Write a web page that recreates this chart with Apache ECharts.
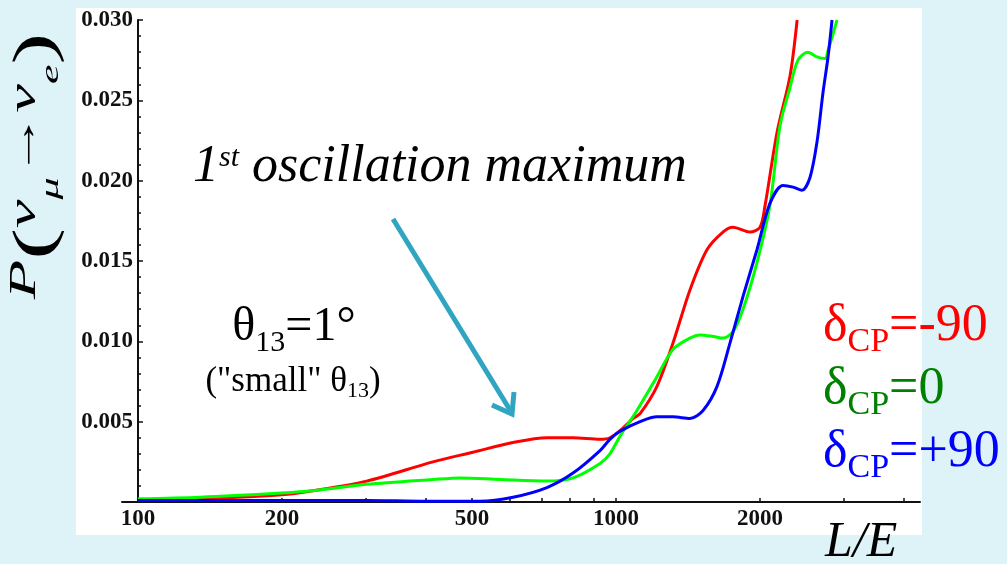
<!DOCTYPE html>
<html>
<head>
<meta charset="utf-8">
<title>P(numu -> nue) vs L/E</title>
<script src="https://cdn.jsdelivr.net/npm/echarts@6.0.0/dist/echarts.min.js"></script>
<style>
  html, body { margin: 0; padding: 0; background: #def3f8; }
  #chart { width: 1007px; height: 564px; }
</style>
</head>
<body>
<div id="chart"></div>
<script>
// values (L/E, probability)
var redLE = [100, 135, 200, 232, 301, 414, 502, 609, 717, 813, 926, 971, 1034, 1086, 1123, 1218, 1316, 1428, 1550, 1674, 1757, 1907, 2001, 2049, 2172, 2312, 2393];
var redP = [0.0001, 0.0002, 0.00045, 0.0007, 0.0013, 0.0025, 0.0031, 0.0037, 0.0040, 0.0040, 0.0039, 0.0040, 0.0046, 0.0052, 0.0055, 0.0072, 0.0099, 0.0132, 0.0157, 0.0168, 0.0171, 0.0168, 0.0171, 0.0184, 0.0230, 0.0265, 0.0300];

var greenLE = [100, 135, 200, 232, 301, 414, 472, 572, 717, 813, 926, 971, 1020, 1106, 1218, 1316, 1428, 1499, 1600, 1674, 1757, 1844, 1972, 2100, 2203, 2312, 2403, 2521, 2633, 2737, 2777, 2900];
var greenP = [0.0002, 0.0003, 0.00056, 0.0007, 0.0011, 0.0014, 0.0015, 0.0014, 0.0013, 0.0015, 0.0024, 0.0030, 0.0041, 0.0057, 0.0078, 0.0095, 0.0102, 0.0104, 0.0103, 0.0102, 0.0106, 0.0120, 0.0149, 0.0185, 0.0234, 0.0258, 0.0275, 0.0280, 0.0277, 0.0276, 0.0281, 0.0300];

var blueLE = [100, 200, 300, 400, 519, 609, 717, 813, 926, 971, 1020, 1123, 1218, 1316, 1428, 1521, 1627, 1732, 1844, 1972, 2100, 2236, 2346, 2449, 2546, 2633, 2711, 2777, 2831];
var blueP = [0.0001, 0.0001, 0.0001, 0.00005, 0.00005, 0.0003, 0.0009, 0.0018, 0.0032, 0.0039, 0.0044, 0.0050, 0.0053, 0.0053, 0.0052, 0.0057, 0.0072, 0.0099, 0.0128, 0.0157, 0.0186, 0.0197, 0.0196, 0.0194, 0.0202, 0.0224, 0.0255, 0.0277, 0.0300];

var xTickLabels = [100, 200, 500, 1000, 2000];
var xMinorTicks = [300, 400, 600, 700, 800, 900, 3000, 4000];

function toPoints (le, p) {
  return le.map(function (v, i) { return [Math.log10(v), p[i]] })
}
function logs (arr) {
  return arr.map(function (v) { return Math.log10(v) })
}

var serif = 'Liberation Serif, Times New Roman, serif'
var axisFont = { fontFamily: serif, fontWeight: 'bold', fontSize: 23, color: '#111' }

// rich text token; pad pushes the glyphs down (used for subscripts)
function tok (size, color, italic, pad) {
  return {
    fontFamily: serif, fontSize: size, verticalAlign: 'top', fill: color,
    fontStyle: italic ? 'italic' : 'normal', padding: [pad || 0, 0, 0, 0]
  }
}
function deltaLabel (y, value, color) {
  return {
    type: 'text', x: 823, y: y, z: 100,
    style: {
      text: '{m|δ}{s|CP}{m|=' + value + '}',
      align: 'left', verticalAlign: 'top',
      rich: { m: tok(52, color), s: tok(34, color, false, 25) }
    }
  }
}

var myChart = echarts.init(document.getElementById('chart'))

var option = {
  backgroundColor: '#def3f8',
  animation: false,
  grid: { left: 122, right: 87, top: 20, bottom: 62 },
  xAxis: {
    type: 'value',
    min: 2 - 16 / 478,
    max: 2 - 16 / 478 + 798 / 478,
    splitLine: { show: false },
    axisLine: { lineStyle: { color: '#111', width: 2 } },
    axisTick: {
      inside: true, length: 4,
      customValues: logs(xTickLabels.concat(xMinorTicks)),
      lineStyle: { color: '#111', width: 1.5 }
    },
    axisLabel: Object.assign({
      margin: 6,
      customValues: logs(xTickLabels),
      formatter: function (v) { return Math.round(Math.pow(10, v)) }
    }, axisFont)
  },
  yAxis: {
    type: 'value',
    min: 0,
    max: 0.03,
    interval: 0.005,
    offset: -16,
    splitLine: { show: false },
    axisLine: { show: true, lineStyle: { color: '#111', width: 2 } },
    axisTick: { inside: true, length: 5, lineStyle: { color: '#111', width: 1.5 } },
    minorTick: { show: true, splitNumber: 5, length: 3, lineStyle: { color: '#111', width: 1.5 } },
    axisLabel: Object.assign({
      margin: 5,
      formatter: function (v) { return v === 0 ? '' : v.toFixed(3) }
    }, axisFont)
  },
  series: [
    { name: 'δCP=-90', type: 'line', data: toPoints(redLE, redP), smooth: 0.3, showSymbol: false, lineStyle: { color: '#ff0000', width: 3 } },
    { name: 'δCP=0', type: 'line', data: toPoints(greenLE, greenP), smooth: 0.3, showSymbol: false, lineStyle: { color: '#00ff00', width: 3 } },
    { name: 'δCP=+90', type: 'line', data: toPoints(blueLE, blueP), smooth: 0.3, showSymbol: false, lineStyle: { color: '#0000ff', width: 3 } }
  ],
  graphic: [
    { type: 'rect', z: -10, shape: { x: 76, y: 8, width: 846, height: 527 }, style: { fill: '#ffffff' } },
    // y axis title, stretched along its length like on the slide
    {
      type: 'text', x: 6, y: 166, rotation: Math.PI / 2, scaleX: 1.7, z: 100,
      style: {
        text: '{m|P}{p|(}{m|ν}{s|μ}{a|→}{m|ν}{s|e}{p|)}',
        align: 'center', verticalAlign: 'top',
        rich: { m: tok(38, '#000', true), s: tok(26, '#000', true, 32), a: tok(38, '#000'), p: tok(56, '#000', false, 3) }
      }
    },
    {
      type: 'text', x: 193, y: 141, z: 100,
      style: {
        text: '{m|1}{u|st}{m| oscillation maximum}',
        align: 'left', verticalAlign: 'top',
        rich: { m: tok(52, '#000', true), u: tok(30, '#000', true, 2) }
      }
    },
    {
      type: 'text', x: 294, y: 303, z: 100,
      style: {
        text: '{m|θ}{s|13}{m|=1°}',
        align: 'center', verticalAlign: 'top',
        rich: { m: tok(48, '#000'), s: tok(30, '#000', false, 25) }
      }
    },
    {
      type: 'text', x: 293, y: 364, z: 100,
      style: {
        text: '{m|("small" θ}{s|13}{m|)}',
        align: 'center', verticalAlign: 'top',
        rich: { m: tok(35, '#000'), s: tok(22, '#000', false, 16) }
      }
    },
    // arrow pointing at the first oscillation maximum
    { type: 'polyline', z: 100, shape: { points: [[393, 219], [510, 410]] }, style: { stroke: '#30a5c2', lineWidth: 5 } },
    { type: 'polyline', z: 100, shape: { points: [[514, 392], [512, 414], [492, 405]] }, style: { stroke: '#30a5c2', lineWidth: 5, fill: null, lineJoin: 'miter' } },
    deltaLabel(300, '-90', '#ff0000'),
    deltaLabel(363, '0', '#008000'),
    deltaLabel(426, '+90', '#0000ff'),
    {
      type: 'text', x: 825, y: 518, z: 100,
      style: { text: '{m|L/E}', align: 'left', verticalAlign: 'top', rich: { m: tok(50, '#000', true) } }
    }
  ]
}
myChart.setOption(option, true)
</script>
</body>
</html>
